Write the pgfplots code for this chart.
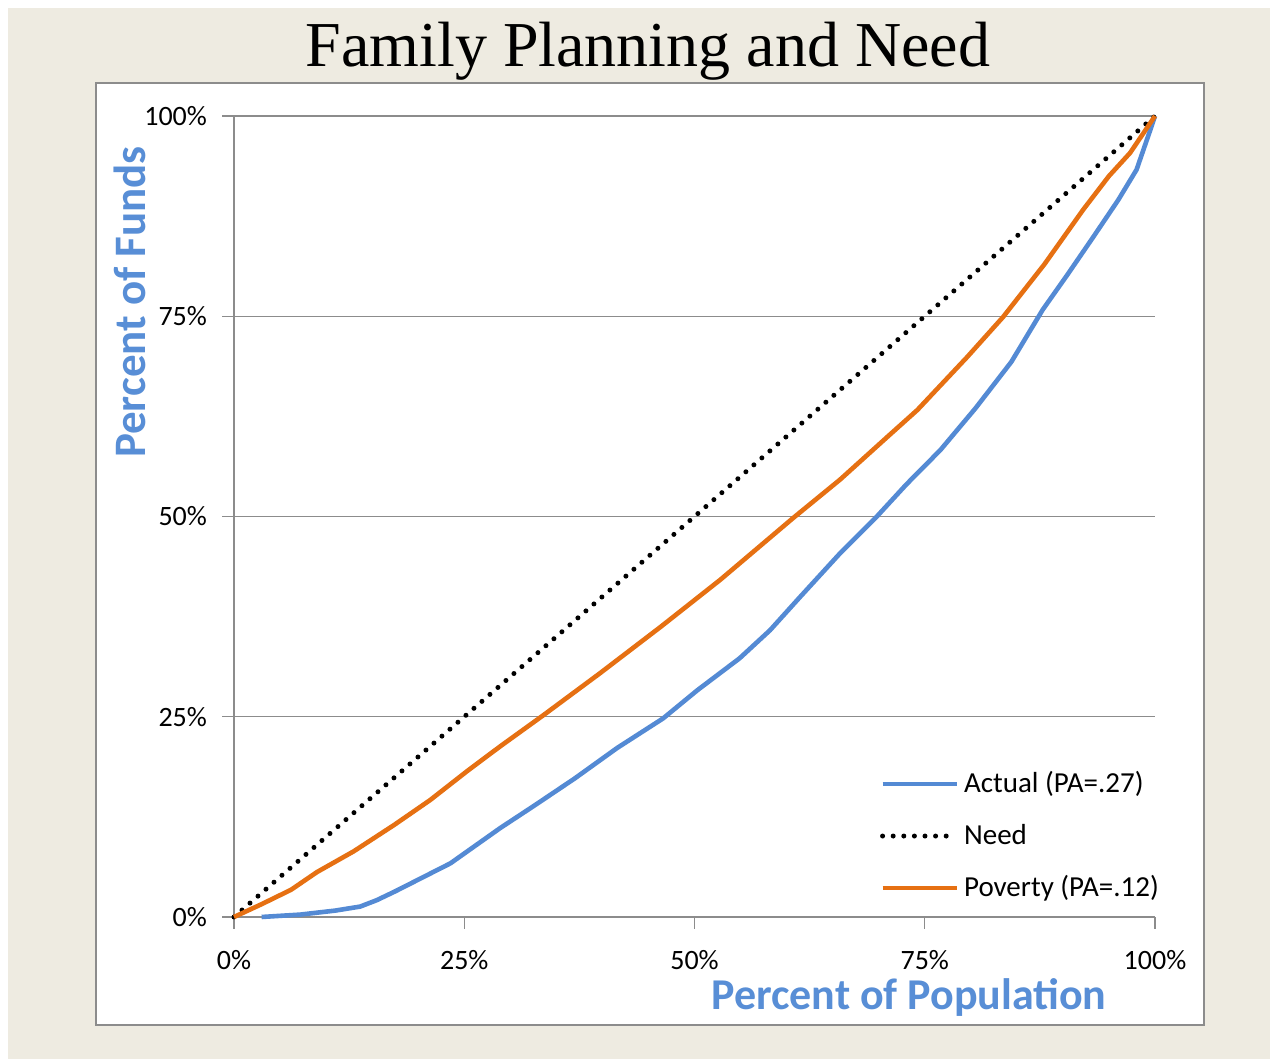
\documentclass[border=0pt]{standalone}
\usepackage{fontspec}
\setmainfont{Carlito}
\newfontfamily\titlefont{Liberation Serif}
\usepackage{pgfplots}
\pgfplotsset{compat=1.18}

\definecolor{pagebg}{RGB}{238,235,225}
\definecolor{actualblue}{RGB}{84,138,212}
\definecolor{povorange}{RGB}{230,112,18}
\definecolor{labelblue}{RGB}{88,142,214}
\definecolor{framegray}{RGB}{140,140,140}

\begin{document}
\begin{tikzpicture}
% page and chart frame
\fill[white] (0pt,0pt) rectangle (635pt,529.5pt);
\fill[pagebg] (4pt,0pt) rectangle (635pt,525.5pt);
\filldraw[fill=white, draw=framegray, line width=0.8pt] (48pt,17pt) rectangle (602pt,488pt);
\node[anchor=base, font=\titlefont\fontsize{32}{38}\selectfont] at (324pt,496pt) {Family Planning and Need};

\begin{axis}[
  at={(117pt,71pt)}, anchor=south west,
  width=460.5pt, height=400.5pt, scale only axis,
  xmin=0, xmax=100, ymin=0, ymax=100,
  clip=false,
  axis lines*=left,
  axis line style={framegray, line width=0.6pt},
  tick align=outside, major tick length=6pt,
  tick style={framegray, line width=0.6pt},
  xtick={0,25,50,75,100},
  ytick={0,25,50,75,100},
  xticklabels={0\%,25\%,50\%,75\%,100\%},
  yticklabels={0\%,25\%,50\%,75\%,100\%},
  ymajorgrids,
  grid style={framegray, line width=0.6pt},
  ticklabel style={font=\fontsize{14}{16}\selectfont, text=black},
  xticklabel style={yshift=-7pt},
  yticklabel style={xshift=-4pt},
  legend cell align=left,
  legend image code/.code={\draw[#1] (0pt,0pt) -- (37pt,0pt);},
  legend style={
    draw=none, fill=none, inner sep=0pt, outer sep=0pt,
    at={(0.7015,0.1841)}, anchor=north west,
    row sep=11.5pt,
    font=\fontsize{14.5}{16}\selectfont,
    nodes={inner sep=0pt, text height=11.5pt, text depth=3pt},
    /tikz/every odd column/.append style={column sep=2.5pt},
  },
]
\addplot[actualblue, line width=2.3pt, line join=round] coordinates {
  (3,0) (7.2,0.3) (11,0.8) (13.7,1.3) (15.5,2.1) (17.5,3.2) (19.9,4.6)
  (23.5,6.7) (28.9,11.1) (32.6,13.9) (37,17.3) (41.6,21.1) (46.6,24.8)
  (50.3,28.3) (54.9,32.3) (58.2,35.8) (61.5,40.0) (65.8,45.4) (69.8,50)
  (73,54) (76.7,58.3) (80.5,63.5) (84.4,69.3) (87.8,75.8) (90.5,80.2)
  (93.3,84.9) (96,89.5) (98,93.3) (99.5,98.3) (100,100)
};
\addlegendentry{Actual (PA=.27)}
\addplot[black, line width=2.5pt, line cap=round, dash pattern=on 0pt off 5.3pt] coordinates {
  (0,0) (100,100)
};
\addlegendentry{Need}
\addplot[povorange, line width=2.3pt, line join=round] coordinates {
  (0,0) (3,1.6) (6.2,3.4) (9,5.6) (13,8.2) (17.4,11.5) (21.3,14.6)
  (25.3,18.2) (28.9,21.3) (33.6,25.2) (39.7,30.4) (46.3,36.2) (52.8,42.1)
  (60.7,49.8) (65.8,54.6) (71,60) (74.2,63.3) (79.6,69.9) (83.5,74.9)
  (88,81.5) (92.2,88.3) (95,92.5) (97.3,95.4) (100,100)
};
\addlegendentry{Poverty (PA=.12)}
\end{axis}

% axis titles
\node[rotate=90, anchor=base, text=labelblue, font=\bfseries\fontsize{22.5}{26}\selectfont] at (72.5pt,378.5pt) {Percent of Funds};
\node[anchor=base, text=labelblue, font=\bfseries\fontsize{22}{26}\selectfont] at (454.5pt,24.5pt) {Percent of Population};
\end{tikzpicture}
\end{document}
